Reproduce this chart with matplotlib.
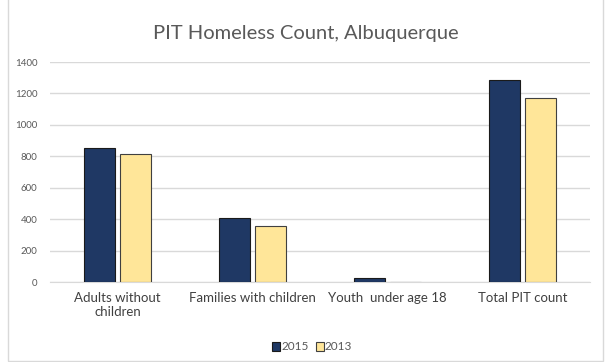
import matplotlib.pyplot as plt
import numpy as np
from matplotlib.patches import Rectangle

categories = ["Adults without\nchildren", "Families with children",
              "Youth  under age 18", "Total PIT count"]
series_names = ["2015", "2013"]
values_2015 = [853, 407, 28, 1286]
values_2013 = [815, 356, 0, 1171]
yticks = [0, 200, 400, 600, 800, 1000, 1200, 1400]

plt.rcParams["font.family"] = ["Lato", "DejaVu Sans"]

fig = plt.figure(figsize=(6.11, 3.62), dpi=100)
ax = fig.add_axes([50 / 611, 1 - 282 / 362, 540 / 611, 220 / 362])

# chart border
fig.patches.append(Rectangle((8 / 611, 0.003), 595 / 611, 1.2, transform=fig.transFigure,
                             fill=False, edgecolor="#d9d9d9", linewidth=1))

x = np.arange(len(categories))
w = 0.23
gap = 0.03
ax.bar(x - w / 2 - gap / 2, values_2015, w, color="#1f3864", edgecolor="#1a1a1a",
       linewidth=0.8, label=series_names[0], zorder=3)
ax.bar(x + w / 2 + gap / 2, values_2013, w, color="#ffe699", edgecolor="#404040",
       linewidth=0.8, label=series_names[1], zorder=3)

ax.set_xlim(-0.5, len(categories) - 0.5)
ax.set_ylim(0, 1400)
ax.set_yticks(yticks)
ax.set_yticklabels([str(t) for t in yticks], fontsize=7, color="#595959")
ax.set_xticks(x)
ax.set_xticklabels(categories, fontsize=9.5, color="#404040")
ax.tick_params(length=0, pad=7)
ax.tick_params(axis="y", pad=9)
ax.grid(axis="y", color="#d9d9d9", linewidth=1, zorder=0)
for s in ["top", "right", "left"]:
    ax.spines[s].set_visible(False)
ax.spines["bottom"].set_color("#d9d9d9")

fig.text(0.5, 1 - 33 / 362, "PIT Homeless Count, Albuquerque", ha="center", va="center",
         fontsize=14.5, color="#595959")

fig.legend(loc="center", bbox_to_anchor=(312 / 611, 1 - 347 / 362), ncol=2, frameon=False,
           fontsize=8.5, handlelength=0.7, handleheight=0.7, handletextpad=0.1,
           columnspacing=0.6, labelcolor="#595959")

fig.savefig("out.png", dpi=100)
